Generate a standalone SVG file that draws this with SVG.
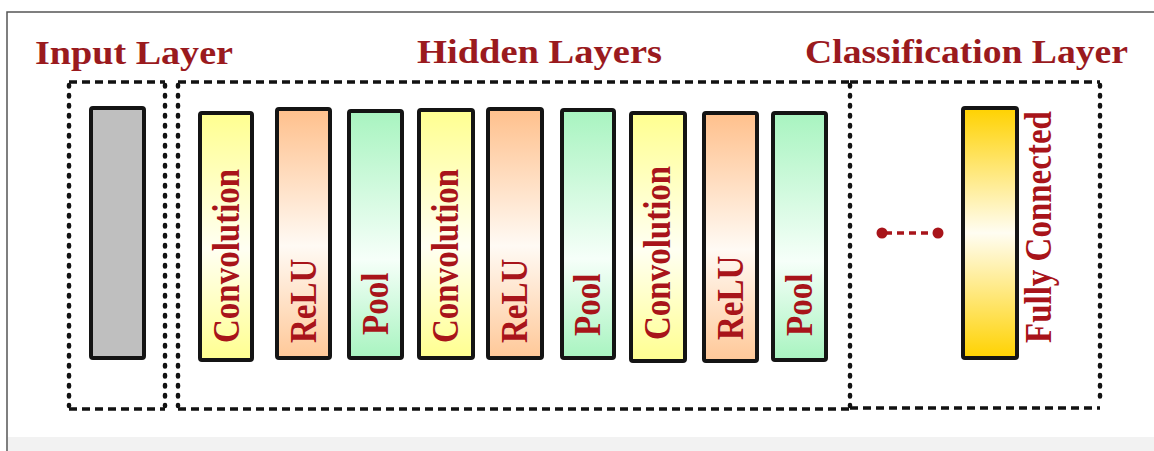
<svg xmlns="http://www.w3.org/2000/svg" width="1154" height="451" viewBox="0 0 1154 451">
<defs>
<linearGradient id="gConv" x1="0" y1="0" x2="0" y2="1">
<stop offset="0" stop-color="#ffff90"/><stop offset="0.55" stop-color="#fffff2"/><stop offset="1" stop-color="#ffff90"/>
</linearGradient>
<linearGradient id="gRelu" x1="0" y1="0" x2="0" y2="1">
<stop offset="0" stop-color="#ffc08c"/><stop offset="0.55" stop-color="#fffaf4"/><stop offset="1" stop-color="#ffc898"/>
</linearGradient>
<linearGradient id="gPool" x1="0" y1="0" x2="0" y2="1">
<stop offset="0" stop-color="#a8f4c0"/><stop offset="0.6" stop-color="#f6fff9"/><stop offset="1" stop-color="#a8f4c0"/>
</linearGradient>
<linearGradient id="gFc" x1="0" y1="0" x2="0" y2="1">
<stop offset="0" stop-color="#ffd200"/><stop offset="0.5" stop-color="#fffdf2"/><stop offset="1" stop-color="#ffd200"/>
</linearGradient>
<style>
.title{font-family:"Liberation Serif","Times New Roman",serif;font-weight:bold;font-size:33px;fill:#9a1a1e}
.lbl{font-family:"Liberation Serif","Times New Roman",serif;font-weight:bold;font-size:33px;fill:#a8141a}
.bar{stroke:#141414;stroke-width:4;}
.hd{fill:none;stroke:#111;stroke-width:3.5;stroke-dasharray:8 5}
.vd{fill:none;stroke:#111;stroke-width:4.5;stroke-dasharray:1.5 8.5;stroke-linecap:round}
</style>
</defs>
<rect x="0" y="0" width="1154" height="451" fill="#ffffff"/>
<rect x="8" y="437" width="1146" height="14" fill="#f2f2f2"/>
<path d="M7 451 V12 H1154" fill="none" stroke="#555" stroke-width="1.5"/>

<g id="input-layer">
<text class="title" x="35" y="64" textLength="198" lengthAdjust="spacingAndGlyphs">Input Layer</text>
<path class="hd" d="M69 82 H165 M69 409 H165"/>
<path class="vd" d="M69 85 V406 M165 85 V406"/>
<rect class="bar" x="91" y="108" width="53" height="250" rx="2" fill="#bfbfbf"/>
</g>

<g id="hidden-layers">
<text class="title" x="417" y="63" textLength="245" lengthAdjust="spacingAndGlyphs">Hidden Layers</text>
<path class="hd" d="M178 82 H850 M178 409 H850"/>
<path class="vd" d="M178 85 V406 M850 85 V406"/>
</g>

<g id="conv1"><rect class="bar" x="200" y="113" width="52" height="247" rx="2" fill="url(#gConv)"/><text class="lbl" transform="translate(239 343) rotate(-90) scale(1 1.13)">Convolution</text></g>
<g id="relu1"><rect class="bar" x="277" y="109" width="53" height="249" rx="2" fill="url(#gRelu)"/><text class="lbl" transform="translate(316 343) rotate(-90) scale(1 1.13)">ReLU</text></g>
<g id="pool1"><rect class="bar" x="349" y="111" width="53" height="247" rx="2" fill="url(#gPool)"/><text class="lbl" transform="translate(388 335) rotate(-90) scale(1 1.13)">Pool</text></g>
<g id="conv2"><rect class="bar" x="419" y="110" width="54" height="248" rx="2" fill="url(#gConv)"/><text class="lbl" transform="translate(458 343) rotate(-90) scale(1 1.13)">Convolution</text></g>
<g id="relu2"><rect class="bar" x="488" y="109" width="54" height="249" rx="2" fill="url(#gRelu)"/><text class="lbl" transform="translate(527 343) rotate(-90) scale(1 1.13)">ReLU</text></g>
<g id="pool2"><rect class="bar" x="562" y="110" width="52" height="248" rx="2" fill="url(#gPool)"/><text class="lbl" transform="translate(600 336) rotate(-90) scale(1 1.13)">Pool</text></g>
<g id="conv3"><rect class="bar" x="631" y="113" width="54" height="248" rx="2" fill="url(#gConv)"/><text class="lbl" transform="translate(670 340) rotate(-90) scale(1 1.13)">Convolution</text></g>
<g id="relu3"><rect class="bar" x="704" y="113" width="53" height="248" rx="2" fill="url(#gRelu)"/><text class="lbl" transform="translate(743 340) rotate(-90) scale(1 1.13)">ReLU</text></g>
<g id="pool3"><rect class="bar" x="773" y="113" width="53" height="247" rx="2" fill="url(#gPool)"/><text class="lbl" transform="translate(812 336) rotate(-90) scale(1 1.13)">Pool</text></g>

<g id="classification-layer">
<text class="title" x="805" y="63" textLength="323" lengthAdjust="spacingAndGlyphs">Classification Layer</text>
<path class="hd" d="M850 82 H1100 M850 408 H1100"/>
<path class="vd" d="M1100 85 V405"/>
</g>

<g id="fully-connected"><rect class="bar" x="963" y="108" width="54" height="250" rx="2" fill="url(#gFc)"/><text class="lbl" transform="translate(1051 343) rotate(-90) scale(1 1.13)">Fully Connected</text></g>

<g id="connectors">
<line x1="882" y1="233" x2="938" y2="233" stroke="#a8141a" stroke-width="3.5" stroke-dasharray="7 5" stroke-dashoffset="-3"/>
<circle cx="882" cy="233" r="5.5" fill="#a8141a"/>
<circle cx="938" cy="233" r="5.5" fill="#a8141a"/>
</g>
</svg>
